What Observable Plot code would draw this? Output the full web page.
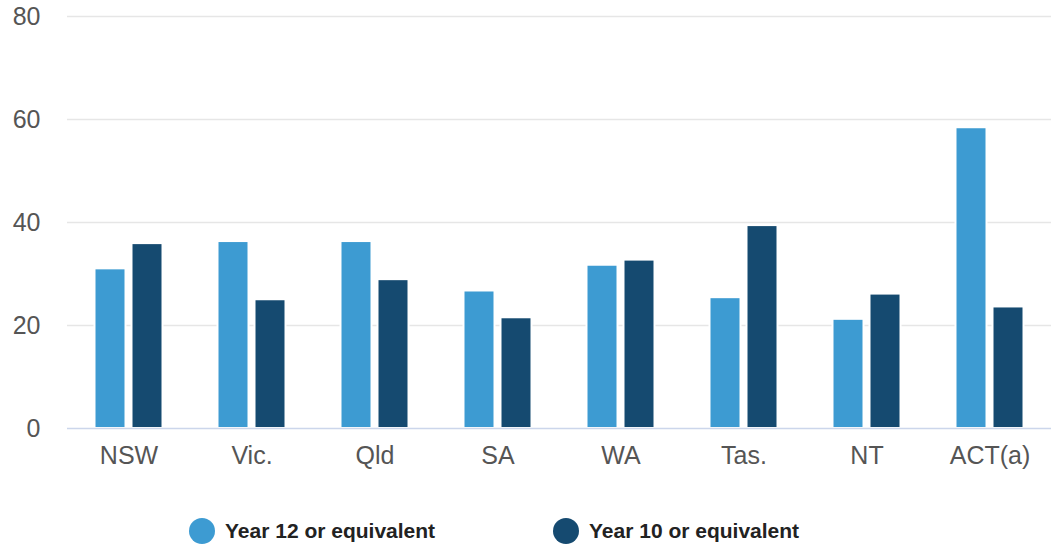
<!DOCTYPE html>
<html>
<head>
<meta charset="utf-8">
<script src="https://cdn.jsdelivr.net/npm/d3@7"></script>
<script src="https://cdn.jsdelivr.net/npm/@observablehq/plot@0.6"></script>
<style>
  html, body { margin: 0; padding: 0; background: #fff; }
  body { width: 1052px; height: 548px; overflow: hidden; font-family: Helvetica, "Liberation Sans", Arial, sans-serif; }
  #chart svg { display: block; }
  .legend { position: relative; height: 58px; }
  .legend .item { position: absolute; top: 28px; display: flex; align-items: center; font-weight: bold; font-size: 21px; color: #222; }
  .legend .dot { width: 26px; height: 26px; border-radius: 50%; margin-right: 10px; }
</style>
</head>
<body>
<div id="chart"></div>
<div class="legend" id="legend"></div>
<script>
// States and territories along the x axis
const states = ["NSW", "Vic.", "Qld", "SA", "WA", "Tas.", "NT", "ACT(a)"];
// Percentages for each qualification level
const year12 = [31.0, 36.3, 36.3, 26.7, 31.7, 25.4, 21.2, 58.4];
const year10 = [35.9, 25.0, 28.9, 21.5, 32.7, 39.4, 26.1, 23.6];
const seriesNames = ["Year 12 or equivalent", "Year 10 or equivalent"];
const seriesColors = ["#3d9bd2", "#154a70"];
const yTicks = [0, 20, 40, 60, 80];

const rows12 = states.map((s, i) => ({state: s, value: year12[i]}));
const rows10 = states.map((s, i) => ({state: s, value: year10[i]}));

const inset = 46;
const chart = Plot.plot({
  width: 1052,
  height: 490,
  marginTop: 16,
  marginBottom: 62,
  marginLeft: 67,
  marginRight: 1,
  style: {fontFamily: "Helvetica, 'Liberation Sans', Arial, sans-serif", background: "#fff"},
  x: {domain: states, padding: 0, label: null},
  y: {domain: [0, 80], label: null},
  marks: [
    Plot.ruleY(yTicks.filter(d => d > 0), {stroke: "#e6e6e6", strokeWidth: 1.5}),
    Plot.barY(rows12, {x: "state", y: "value", fill: seriesColors[0], stroke: "#fff", strokeWidth: 2,
      insetLeft: inset, insetRight: inset, dx: -18.5}),
    Plot.barY(rows10, {x: "state", y: "value", fill: seriesColors[1], stroke: "#fff", strokeWidth: 2,
      insetLeft: inset, insetRight: inset, dx: 18.5}),
    Plot.ruleY([0], {stroke: "#ccd6eb", strokeWidth: 1.5}),
    Plot.axisY({ticks: yTicks, tickSize: 0, tickPadding: 27, fontSize: 25, fill: "#555", label: null}),
    Plot.axisX({tickSize: 0, tickPadding: 18, fontSize: 25, fill: "#555", label: null})
  ]
});
document.getElementById("chart").appendChild(chart);

// Legend below the chart
const legend = document.getElementById("legend");
const lefts = [189, 553];
seriesNames.forEach((name, i) => {
  const item = document.createElement("div");
  item.className = "item";
  item.style.left = lefts[i] + "px";
  const dot = document.createElement("span");
  dot.className = "dot";
  dot.style.background = seriesColors[i];
  const label = document.createElement("span");
  label.textContent = name;
  item.appendChild(dot);
  item.appendChild(label);
  legend.appendChild(item);
});
</script>
</body>
</html>
